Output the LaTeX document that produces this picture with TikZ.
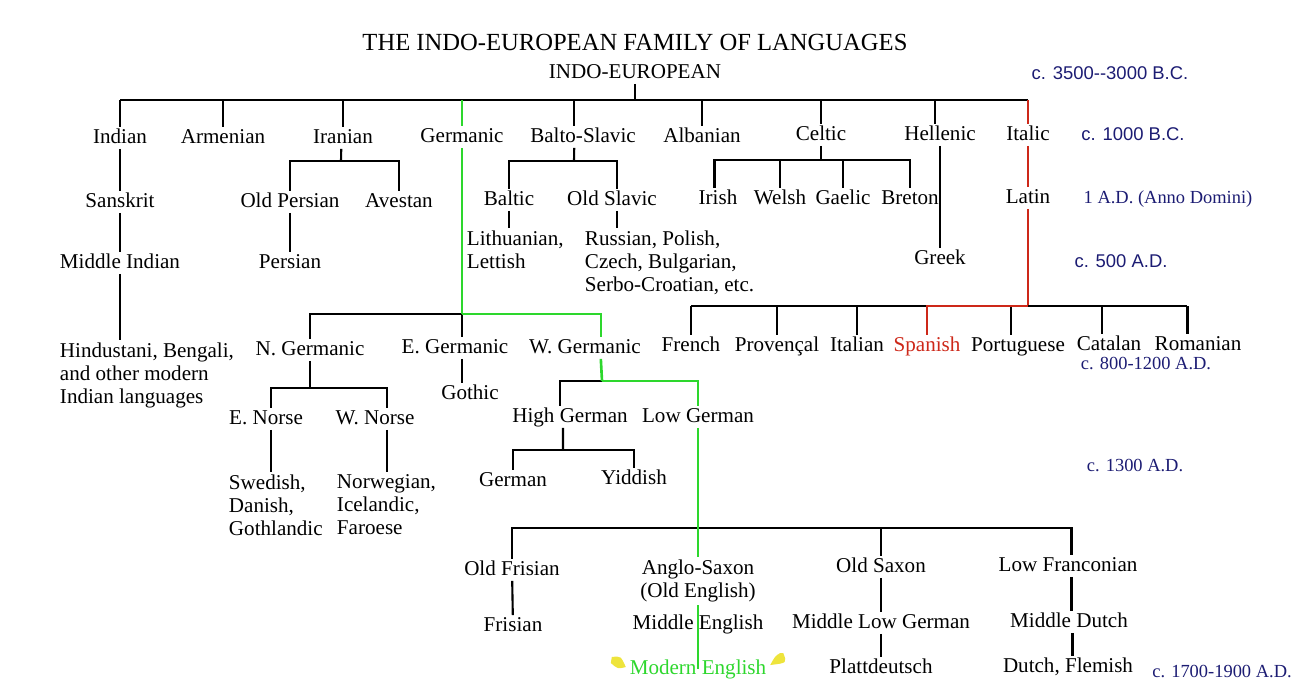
\documentclass[tikz,border=0pt]{standalone}
\usepackage{fontspec}
\setmainfont{Liberation Serif}
\newfontfamily\datesans{Liberation Sans}
\usetikzlibrary{positioning}
\definecolor{treegreen}{RGB}{45,215,45}
\definecolor{treered}{RGB}{205,40,25}
\definecolor{datenavy}{RGB}{28,28,115}
\definecolor{markyellow}{RGB}{238,228,60}

\begin{document}
\begin{tikzpicture}[x=0.02cm, y=-0.02cm,
    lang/.style={font=\fontsize{12}{13}\selectfont, inner sep=1.5pt, text height=0.78em, text depth=0.12em},
    block/.style={font=\fontsize{12}{13}\selectfont, inner sep=1.5pt, align=left, anchor=north west},
    date/.style={font=\fontsize{10.5}{12}\selectfont, text=datenavy},
    link/.style={line width=1.2pt},
    glink/.style={line width=1.5pt, treegreen},
    rlink/.style={line width=0.9pt, treered}]

    \useasboundingbox (0,0) rectangle (1300,692);

    % Title and root
    \node[font=\fontsize{14}{16}\selectfont] (title) at (635,42) {THE INDO-EUROPEAN FAMILY OF LANGUAGES};
    \node[lang] (ie) at (635,73) {INDO-EUROPEAN};

    % First branches
    \node[lang] (indian) at (120,138) {Indian};
    \node[lang] (armenian) at (223,138) {Armenian};
    \node[lang] (iranian) at (343,138) {Iranian};
    \node[lang] (germanic) at (462,137) {Germanic};
    \node[lang] (baltoslavic) at (583,137) {Balto-Slavic};
    \node[lang] (albanian) at (702,137) {Albanian};
    \node[lang] (celtic) at (821,135) {Celtic};
    \node[lang] (hellenic) at (940,135) {Hellenic};
    \node[lang] (italic) at (1028,135) {Italic};

    % Second level
    \node[lang] (sanskrit) at (120,202) {Sanskrit};
    \node[lang] (midindian) at (120,263) {Middle Indian};
    \node[block] (hindustani) at (57,340) {Hindustani, Bengali,\\and other modern\\Indian languages};
    \node[lang] (oldpersian) at (290,202) {Old Persian};
    \node[lang] (avestan) at (399,202) {Avestan};
    \node[lang] (persian) at (290,263) {Persian};
    \node[lang] (baltic) at (509,200) {Baltic};
    \node[lang] (oldslavic) at (612,200) {Old Slavic};
    \node[block] (lithuanian) at (464,228) {Lithuanian,\\Lettish};
    \node[block] (russian) at (582,228) {Russian, Polish,\\Czech, Bulgarian,\\Serbo-Croatian, etc.};
    \node[lang] (irish) at (718,199) {Irish};
    \node[lang] (welsh) at (780,199) {Welsh};
    \node[lang] (gaelic) at (843,199) {Gaelic};
    \node[lang] (breton) at (910,199) {Breton};
    \node[lang] (greek) at (940,259) {Greek};
    \node[lang] (latin) at (1028,198) {Latin};

    % Romance
    \node[lang] (french) at (691,346) {French};
    \node[lang] (provencal) at (777,346) {Provençal};
    \node[lang] (italian) at (857,346) {Italian};
    \node[lang, text=treered] (spanish) at (927,346) {Spanish};
    \node[lang] (portuguese) at (1018,346) {Portuguese};
    \node[lang] (catalan) at (1109,345) {Catalan};
    \node[lang] (romanian) at (1198,345) {Romanian};

    % Germanic
    \node[lang] (ngerm) at (310,350) {N. Germanic};
    \node[lang] (egerm) at (455,348) {E. Germanic};
    \node[lang] (wgerm) at (585,348) {W. Germanic};
    \node[lang] (gothic) at (470,394) {Gothic};
    \node[lang] (enorse) at (266,419) {E. Norse};
    \node[lang] (wnorse) at (375,419) {W. Norse};
    \node[block] (swedish) at (226,472) {Swedish,\\Danish,\\Gothlandic};
    \node[block] (norwegian) at (334,472) {Norwegian,\\Icelandic,\\Faroese};
    \node[lang] (highgerm) at (570,417) {High German};
    \node[lang] (lowgerm) at (698,417) {Low German};
    \node[lang] (german) at (513,481) {German};
    \node[lang] (yiddish) at (634,479) {Yiddish};

    % Low German
    \node[lang] (oldfrisian) at (512,570) {Old Frisian};
    \node[lang] (frisian) at (513,626) {Frisian};
    \node[font=\fontsize{12}{13}\selectfont, inner sep=1.5pt, align=center] (anglo) at (698,581) {Anglo-Saxon\\(Old English)};
    \node[lang] (midenglish) at (698,624) {Middle English};
    \node[lang, text=treegreen] (modenglish) at (698,669) {Modern English};
    \node[lang] (oldsaxon) at (881,567) {Old Saxon};
    \node[lang] (midlowgerm) at (881,623) {Middle Low German};
    \node[lang] (plattdeutsch) at (881,668) {Plattdeutsch};
    \node[lang] (lowfranc) at (1068,566) {Low Franconian};
    \node[lang] (middutch) at (1069,622) {Middle Dutch};
    \node[lang] (dutch) at (1068,667) {Dutch, Flemish};

    % Dates
    \node[date] (d3500) at (1110,73) {\datesans c. 3500-{}-3000 B.C.};
    \node[date] (d1000) at (1133,134) {\datesans c. 1000 B.C.};
    \node[date] (d1) at (1168,199) {1 A.D. (Anno Domini)};
    \node[date] (d500) at (1121,261) {\datesans c. 500 A.D.};
    \node[date] (d800) at (1146,363) {c. 800-1200 A.D.};
    \node[date] (d1300) at (1135,465) {c. 1300 A.D.};
    \node[date] (d1700) at (1222,671) {c. 1700-1900 A.D.};

    % Yellow marks
    \fill[markyellow] ([shift={(-15,-12)}]modenglish.west) .. controls ([shift={(-6,-13)}]modenglish.west) .. ([shift={(-1,-2)}]modenglish.west)
        .. controls ([shift={(-9,0)}]modenglish.west) .. ([shift={(-16,-6)}]modenglish.west) -- cycle;
    \fill[markyellow] ([shift={(14,-16)}]modenglish.east) .. controls ([shift={(18,-6)}]modenglish.east) .. ([shift={(1,-4)}]modenglish.east)
        .. controls ([shift={(6,-13)}]modenglish.east) .. ([shift={(11,-16)}]modenglish.east) -- cycle;

    % Top bar
    \coordinate (ieBar) at (635,100);
    \draw[link] (ie) -- (ieBar);
    \draw[link] (ieBar -| indian) -- (ieBar -| italic);
    \draw[link] (ieBar -| indian) -- (indian);
    \draw[link] (ieBar -| armenian) -- (armenian);
    \draw[link] (ieBar -| iranian) -- (iranian);
    \draw[link] ([xshift=-5pt]ieBar -| baltoslavic) -- ([xshift=-5pt]baltoslavic.north);
    \draw[link] (ieBar -| albanian) -- (albanian);
    \draw[link] (ieBar -| celtic) -- (celtic);
    \draw[link] ([xshift=-3pt]ieBar -| hellenic) -- ([xshift=-3pt]hellenic.north);
    \draw[glink] (ieBar -| germanic) -- (germanic);
    \draw[rlink] (ieBar -| italic) -- (italic);

    % Indian and Iranian
    \draw[link] (indian) -- (sanskrit);
    \draw[link] (sanskrit) -- (midindian);
    \draw[link] (midindian) -- (midindian |- hindustani.north);
    \coordinate (irBar) at (341,161);
    \draw[link] ([xshift=-1pt]iranian.south) -- (irBar);
    \draw[link] (irBar) -| (oldpersian);
    \draw[link] (irBar) -| (avestan);
    \draw[link] (oldpersian) -- (persian);

    % Balto-Slavic
    \coordinate (bsBar) at (574,161);
    \draw[link] ([xshift=-5pt]baltoslavic.south) -- (bsBar);
    \draw[link] (bsBar) -| (baltic);
    \draw[link] (bsBar) -| ([xshift=3pt]oldslavic.north);
    \draw[link] (baltic) -- (baltic |- lithuanian.north);
    \draw[link] ([xshift=3pt]oldslavic.south) -- ([xshift=3pt]oldslavic.south |- russian.north);

    % Celtic and Hellenic
    \coordinate (ceBar) at (821,160);
    \draw[link] (celtic) -- (ceBar);
    \draw[link] (ceBar) -| ([xshift=-2pt]irish.north);
    \draw[link] (ceBar) -| (welsh);
    \draw[link] (ceBar) -| (gaelic);
    \draw[link] (ceBar) -| (breton);
    \draw[link] (hellenic) -- (greek);

    % Italic
    \coordinate (romBar) at (1028,306);
    \draw[rlink] (italic) -- (latin);
    \draw[rlink] (latin) -- (romBar);
    \draw[link] (romBar -| french) -- ([xshift=-6pt]romBar -| romanian);
    \draw[link] (romBar -| french) -- (french);
    \draw[link] (romBar -| provencal) -- (provencal);
    \draw[link] (romBar -| italian) -- (italian);
    \draw[link] ([xshift=-4pt]romBar -| portuguese) -- ([xshift=-4pt]portuguese.north);
    \draw[link] ([xshift=-4pt]romBar -| catalan) -- ([xshift=-4pt]catalan.north);
    \draw[link] ([xshift=-6pt]romBar -| romanian) -- ([xshift=-6pt]romanian.north);
    \draw[rlink] (romBar) -| (spanish);

    % Germanic
    \coordinate (gBar) at (462,314);
    \draw[link] (gBar) -| (ngerm);
    \draw[link] (gBar) -- (gBar |- egerm.north);
    \draw[link] (gBar |- egerm.south) -- (gBar |- gothic.north);
    \draw[glink] (germanic) -- (gBar);
    \draw[glink] (gBar) -| ([xshift=9pt]wgerm.north);
    \coordinate (ngBar) at (310,388);
    \draw[link] (ngerm) -- (ngBar);
    \draw[link] (ngBar) -| ([xshift=3pt]enorse.north);
    \draw[link] (ngBar) -| ([xshift=7pt]wnorse.north);
    \draw[link] ([xshift=3pt]enorse.south) -- ([xshift=3pt]enorse.south |- swedish.north);
    \draw[link] ([xshift=7pt]wnorse.south) -- ([xshift=7pt]wnorse.south |- norwegian.north);

    % West Germanic
    \coordinate (wBar) at (602,381);
    \draw[link] (wBar) -| ([xshift=-5.5pt]highgerm.north);
    \draw[glink] ([xshift=9pt]wgerm.south) -- (wBar);
    \draw[glink] (wBar) -| (lowgerm);
    \coordinate (hgBar) at (563,450);
    \draw[link] ([xshift=-4pt]highgerm.south) -- (hgBar);
    \draw[link] (hgBar) -| (german);
    \draw[link] (hgBar) -| (yiddish);

    % Low German
    \coordinate (lgBar) at (698,528);
    \draw[link] (lgBar) -| (oldfrisian);
    \draw[link] (lgBar) -| (oldsaxon);
    \draw[link] (lgBar) -| ([xshift=2pt]lowfranc.north);
    \draw[glink] (lowgerm) -- (anglo);
    \draw[link] (oldfrisian) -- (frisian);
    \draw[link] (oldsaxon) -- (midlowgerm);
    \draw[link] (midlowgerm) -- (plattdeutsch);
    \draw[link] ([xshift=2pt]lowfranc.south) -- ([xshift=2pt]lowfranc.south |- middutch.north);
    \draw[link] ([xshift=2pt]middutch.south) -- ([xshift=2pt]middutch.south |- dutch.north);
    \draw[glink] (anglo.south) -- (modenglish.center);
\end{tikzpicture}
\end{document}
